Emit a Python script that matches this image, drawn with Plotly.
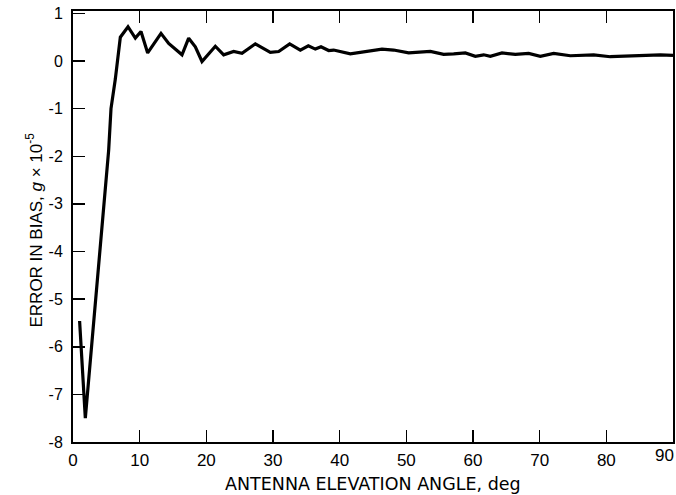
import plotly.graph_objects as go

# Antenna elevation angle (deg) and error in bias (g x 1e-5)
angle_deg = [0.99, 1.85, 5.35, 5.7, 6.35, 7.1, 8.25, 9.35, 10.2, 11.2, 13.2, 14.35,
             16.35, 17.35, 18.35, 19.35, 21.35, 22.6, 24.1, 25.35, 27.35, 29.6,
             30.85, 32.5, 34.1, 35.3, 36.35, 37.2, 38.35, 39.1, 41.6, 44.1, 46.35,
             48.1, 50.35, 53.6, 55.6, 57.1, 58.85, 60.35, 61.6, 62.6, 64.35, 66.35,
             68.35, 70.1, 72.1, 74.6, 78.1, 80.6, 84.1, 88.1, 90.0]
error_bias = [-5.46, -7.5, -1.87, -1.0, -0.38, 0.5, 0.72, 0.48, 0.62, 0.17, 0.58, 0.37,
              0.13, 0.48, 0.3, -0.01, 0.31, 0.13, 0.2, 0.16, 0.36, 0.18,
              0.2, 0.36, 0.23, 0.32, 0.25, 0.3, 0.22, 0.23, 0.15, 0.21, 0.25,
              0.23, 0.17, 0.2, 0.14, 0.15, 0.17, 0.1, 0.13, 0.1, 0.17, 0.14,
              0.16, 0.1, 0.16, 0.11, 0.13, 0.09, 0.11, 0.13, 0.12]

x_ticks = [0, 10, 20, 30, 40, 50, 60, 70, 80]
x_tick_labels = ["0", "10", "20", "30", "40", "50", "60", "70", "80"]
x_last_tick = 90
x_last_label = "90"
y_ticks = [1, 0, -1, -2, -3, -4, -5, -6, -7, -8]
y_tick_labels = ["1", "0", "-1", "-2", "-3", "-4", "-5", "-6", "-7", "-8"]

x_title = "ANTENNA ELEVATION ANGLE, deg"
y_title = "ERROR IN BIAS, <i>g</i> × 10<sup>-5</sup>"

fig = go.Figure()
fig.add_trace(go.Scatter(x=angle_deg, y=error_bias, mode="lines",
                         line=dict(color="black", width=3.2), hoverinfo="skip"))

sans = "Liberation Sans, Arial, sans-serif"
narrow = "Liberation Sans Narrow, Liberation Sans, Arial, sans-serif"
wide = "DejaVu Sans, Verdana, sans-serif"

fig.update_layout(
    width=676, height=495,
    margin=dict(l=73, r=3, t=11, b=53, pad=0),
    paper_bgcolor="white", plot_bgcolor="white",
    showlegend=False,
    font=dict(family=sans, color="black"),
    xaxis=dict(range=[0, 90], tickvals=x_ticks, ticktext=x_tick_labels,
               ticks="inside", ticklen=12, tickwidth=1.5, tickcolor="black",
               showline=True, linewidth=2, linecolor="black", mirror="ticks",
               showgrid=False, zeroline=False, tickfont=dict(size=17, family=sans),
               ticklabelstandoff=2, automargin=False),
    yaxis=dict(range=[-8, 1.05], tickvals=y_ticks, ticktext=y_tick_labels,
               ticks="inside", ticklen=12, tickwidth=1.5, tickcolor="black",
               showline=True, linewidth=2, linecolor="black", mirror=True,
               showgrid=False, zeroline=False, tickfont=dict(size=16, family=narrow),
               ticklabelstandoff=5, automargin=False),
    annotations=[
        dict(text=x_last_label, xref="x", yref="paper", x=x_last_tick, y=0,
             xanchor="right", yanchor="top", xshift=3, yshift=-2, showarrow=False,
             font=dict(size=17, family=sans)),
        dict(text=x_title, xref="paper", yref="paper", x=0.5, y=0,
             yshift=-42, xanchor="center", yanchor="middle", showarrow=False,
             font=dict(size=17.5, family=wide)),
        dict(text=y_title, xref="paper", yref="paper", x=0, y=0.5,
             xshift=-39, yshift=-4, xanchor="center", yanchor="middle", showarrow=False,
             textangle=-90, font=dict(size=17, family=sans)),
    ],
)

fig.write_html("out.html", config={"displayModeBar": False, "staticPlot": True},
               post_script="document.body.style.margin='0';document.body.style.overflow='hidden';")
